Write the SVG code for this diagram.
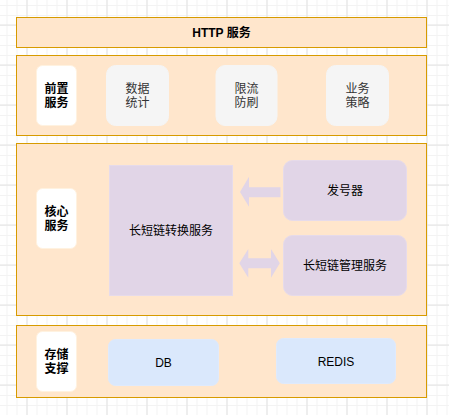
<svg xmlns="http://www.w3.org/2000/svg" width="449" height="415" viewBox="0 0 449 415">
<defs>
<pattern id="minor" width="10" height="10" patternUnits="userSpaceOnUse" x="6.5" y="5">
<path d="M0 0.5H10M0.5 0V10" fill="none" stroke="#f3f3f3" stroke-width="1"/>
</pattern>
<pattern id="major" width="40" height="40" patternUnits="userSpaceOnUse" x="26.5" y="24.5">
<path d="M0 0.5H40M0.5 0V40" fill="none" stroke="#e3e3e3" stroke-width="1"/>
</pattern>
</defs>
<style>
.layer{fill:#ffe6cc;stroke:#d79b00;stroke-width:1}
.lbl{fill:#ffffff;stroke:#fff2e0;stroke-width:1}
.gray{fill:#f5f5f5;stroke:#f5f5f5;stroke-width:1}
.purple{fill:#e1d5e7;stroke:#e6dbea;stroke-width:1}
.blue{fill:#dae8fc;stroke:#dfeafc;stroke-width:1}
.arrow{fill:#e1d5e7;stroke:none}
text{font-family:"Liberation Sans","Noto Sans CJK SC",sans-serif;font-size:12px;text-anchor:middle;fill:#000}
.b{font-weight:bold}
.g{fill:#333333}
</style>
<rect width="449" height="415" fill="#ffffff"/>
<rect width="449" height="415" fill="url(#minor)"/>
<rect width="449" height="415" fill="url(#major)"/>

<g id="http">
<rect class="layer" x="16.5" y="17.5" width="410" height="30"/>
<text class="b" x="221.5" y="36.8">HTTP 服务</text>
</g>

<g id="front">
<rect class="layer" x="16.5" y="55.5" width="410" height="80"/>
</g>
<g id="front-label">
<rect class="lbl" x="36.5" y="65.5" width="40" height="60" rx="6"/>
<text class="b" x="56.5" y="93">前置</text>
<text class="b" x="56.5" y="107">服务</text>
</g>
<g id="stat">
<rect class="gray" x="106.5" y="65.5" width="62" height="60" rx="9"/>
<text class="g" x="137.5" y="93">数据</text>
<text class="g" x="137.5" y="107">统计</text>
</g>
<g id="limit">
<rect class="gray" x="216" y="65.5" width="61" height="60" rx="9"/>
<text class="g" x="246.5" y="93">限流</text>
<text class="g" x="246.5" y="107">防刷</text>
</g>
<g id="strategy">
<rect class="gray" x="326.5" y="65.5" width="62" height="60" rx="9"/>
<text class="g" x="357.5" y="93">业务</text>
<text class="g" x="357.5" y="107">策略</text>
</g>

<g id="core">
<rect class="layer" x="16.5" y="143.5" width="410" height="172"/>
</g>
<g id="core-label">
<rect class="lbl" x="36.5" y="188.5" width="40" height="60" rx="6"/>
<text class="b" x="56.5" y="216">核心</text>
<text class="b" x="56.5" y="230">服务</text>
</g>
<g id="convert">
<rect class="purple" x="109.5" y="165.5" width="123" height="130"/>
<text x="171" y="235">长短链转换服务</text>
</g>
<g id="idgen">
<rect class="purple" x="283.5" y="160.5" width="123" height="60" rx="9"/>
<text x="345" y="195">发号器</text>
</g>
<g id="manage">
<rect class="purple" x="283.5" y="235.5" width="123" height="60" rx="9"/>
<text x="345" y="270">长短链管理服务</text>
</g>

<g id="connectors">
<path class="arrow" d="M240 192 L249 176.7 L249 187.3 L280.5 187.3 L280.5 197.3 L249 197.3 L249 206.7 Z"/>
<path class="arrow" d="M239.3 263.3 L248.3 249 L248.3 258.3 L271 258.3 L271 249 L279.8 263.3 L271 277.7 L271 268.3 L248.3 268.3 L248.3 277.7 Z"/>
</g>

<g id="storage">
<rect class="layer" x="16.5" y="325.5" width="410" height="72"/>
</g>
<g id="storage-label">
<rect class="lbl" x="36.5" y="331.5" width="40" height="60" rx="6"/>
<text class="b" x="56.5" y="359">存储</text>
<text class="b" x="56.5" y="373">支撑</text>
</g>
<g id="db">
<rect class="blue" x="108.5" y="339.5" width="110" height="46" rx="7"/>
<text x="163.5" y="366.5">DB</text>
</g>
<g id="redis">
<rect class="blue" x="276.5" y="338.5" width="119" height="45" rx="7"/>
<text x="336" y="365.5">REDIS</text>
</g>
</svg>
